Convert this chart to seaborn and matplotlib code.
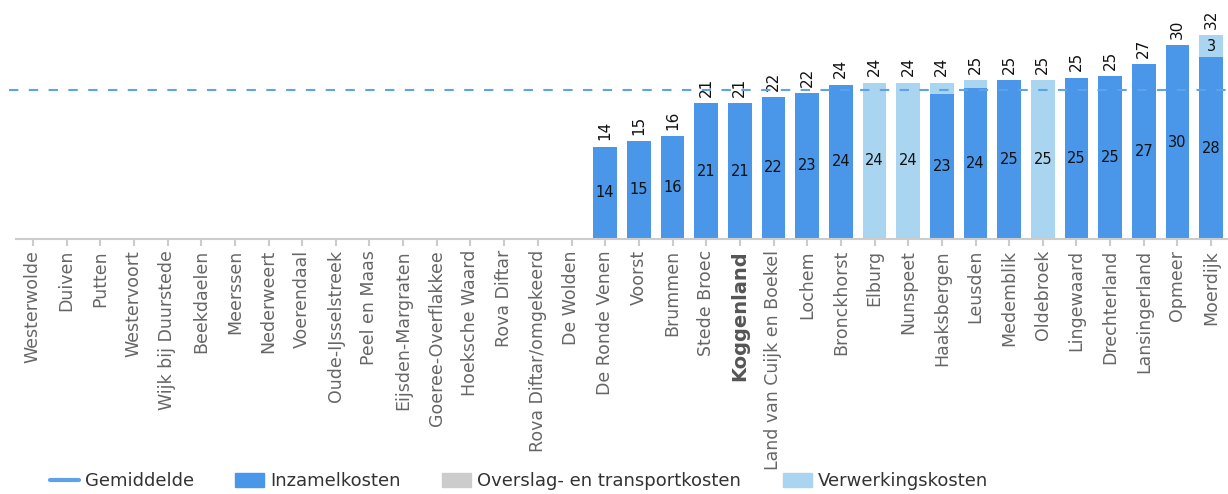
import matplotlib
matplotlib.use("Agg")
import matplotlib.pyplot as plt
import seaborn as sns
import pandas as pd
import numpy as np
from matplotlib.lines import Line2D
from matplotlib.patches import Patch

# gemeenten op de x-as
gemeenten = [
    "Westerwolde", "Duiven", "Putten", "Westervoort", "Wijk bij Duurstede",
    "Beekdaelen", "Meerssen", "Nederweert", "Voerendaal", "Oude-IJsselstreek",
    "Peel en Maas", "Eijsden-Margraten", "Goeree-Overflakkee", "Hoeksche Waard",
    "Rova Diftar", "Rova Diftar/omgekeerd", "De Wolden", "De Ronde Venen",
    "Voorst", "Brummen", "Stede Broec", "Koggenland", "Land van Cuijk en Boekel",
    "Lochem", "Bronckhorst", "Elburg", "Nunspeet", "Haaksbergen", "Leusden",
    "Medemblik", "Oldebroek", "Lingewaard", "Drechterland", "Lansingerland",
    "Opmeer", "Moerdijk",
]
inzamelkosten = [
    0, 0, 0, 0, 0, 0, 0, 0, 0, 0, 0, 0, 0, 0, 0, 0, 0,
    14.4, 15.3, 16.0, 21.2, 21.2, 22.2, 22.8, 24.1, 0, 0,
    22.7, 23.6, 24.8, 0, 25.2, 25.4, 27.3, 30.2, 28.4,
]
overslagkosten = [0] * len(gemeenten)
verwerkingskosten = [
    0, 0, 0, 0, 0, 0, 0, 0, 0, 0, 0, 0, 0, 0, 0, 0, 0,
    0, 0, 0, 0, 0, 0, 0, 0, 24.4, 24.4,
    1.7, 1.2, 0, 24.8, 0, 0, 0, 0, 3.4,
]
# totalen zoals boven de staven vermeld
totaal_label = [
    None, None, None, None, None, None, None, None, None, None, None, None,
    None, None, None, None, None,
    14, 15, 16, 21, 21, 22, 22, 24, 24, 24, 24, 25, 25, 25, 25, 25, 27, 30, 32,
]
gemiddelde = 23.3
highlight = "Koggenland"

c_inzamel = "#4a96e8"
c_overslag = "#cccccc"
c_verwerking = "#a9d5f0"
c_gem = "#5ea3ea"

df = pd.DataFrame({
    "gemeente": gemeenten,
    "inzamel": inzamelkosten,
    "overslag": overslagkosten,
    "verwerking": verwerkingskosten,
})
df["laag2"] = df["inzamel"] + df["overslag"]
df["totaal"] = df["laag2"] + df["verwerking"]

sns.set_style("white")
plt.rcParams["font.family"] = ["DejaVu Sans"]

fig = plt.figure(figsize=(12.28, 4.94), dpi=100)
ax = fig.add_axes([16 / 1228, 1 - 239 / 494, 1212 / 1228, 239 / 494])

# gestapelde staven: eerst totaal, daaroverheen de lagere lagen
for col, kleur in [("totaal", c_verwerking), ("laag2", c_overslag), ("inzamel", c_inzamel)]:
    sns.barplot(data=df, x="gemeente", y=col, order=gemeenten, color=kleur,
                saturation=1, width=0.71, linewidth=0, errorbar=None, ax=ax)

ax.axhline(gemiddelde, xmin=-0.006, xmax=1, color=c_gem, lw=1.5,
           dashes=(4.5, 5), clip_on=False, zorder=5)

# labels
for i, row in df.iterrows():
    if row["inzamel"] >= 2.5:
        ax.text(i, row["inzamel"] / 2, f"{round(row['inzamel'])}", ha="center",
                va="center", fontsize=10.5, color="#111111")
    if row["verwerking"] >= 2.5:
        ax.text(i, row["laag2"] + row["verwerking"] / 2, f"{round(row['verwerking'])}",
                ha="center", va="center", fontsize=10.5, color="#111111")
    if totaal_label[i] is not None:
        ax.annotate(f"{totaal_label[i]}", (i, row["totaal"]), xytext=(0, 4.5),
                    textcoords="offset points", rotation=90, ha="center",
                    va="bottom", fontsize=11, color="#111111")

ax.set_xlim(-0.5, len(gemeenten) - 0.5)
ax.set_ylim(0, 37.3)
ax.set_xlabel("")
ax.set_ylabel("")
ax.set_yticks([])
ax.set_xticks(range(len(gemeenten)))
ax.set_xticklabels(gemeenten, rotation=90, fontsize=12.5, color="#666666")
for lbl in ax.get_xticklabels():
    if lbl.get_text() == highlight:
        lbl.set_fontweight("bold")
        lbl.set_fontsize(14)
        lbl.set_color("#555555")
ax.tick_params(axis="x", length=5, width=1.5, color="#cccccc", pad=3, bottom=True)
for s in ["top", "left", "right"]:
    ax.spines[s].set_visible(False)
ax.spines["bottom"].set_color("#cccccc")
ax.spines["bottom"].set_linewidth(1.5)
ax.spines["bottom"].set_zorder(6)

handles = [
    Line2D([0], [0], color=c_gem, lw=3),
    Patch(color=c_inzamel),
    Patch(color=c_overslag),
    Patch(color=c_verwerking),
]
labels = ["Gemiddelde", "Inzamelkosten", "Overslag- en transportkosten", "Verwerkingskosten"]
fig.legend(handles, labels, loc="center left", bbox_to_anchor=(50 / 1228, 0.026),
           ncol=4, frameon=False, fontsize=13, handlelength=1.6, handleheight=0.8,
           handletextpad=0.33, columnspacing=2.3, borderpad=0, borderaxespad=0,
           labelcolor="#333333")

fig.savefig("out.png", dpi=100)
